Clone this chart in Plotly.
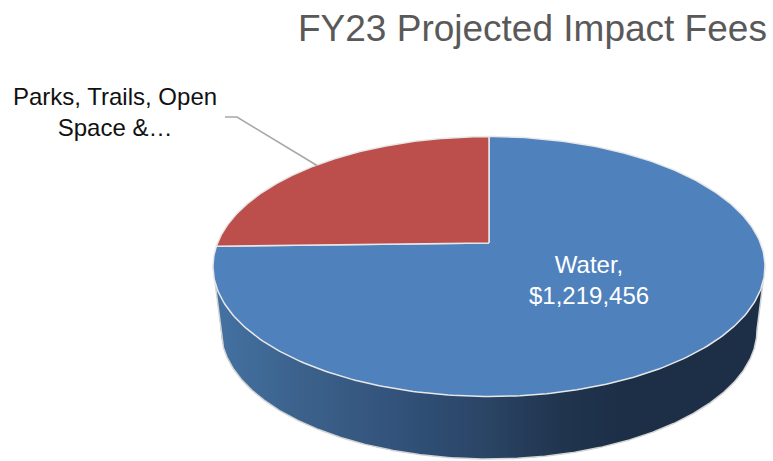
import numpy as np
import plotly.graph_objects as go

categories = ["Water", "Parks, Trails, Open Space &…"]
values = [1219456, 354000]
slice_colors = ["#4f81bd", "#bc4f4c"]
title_text = "FY23 Projected Impact Fees"

W, H = 773, 461
# pie geometry, in window pixels (axes run 1:1 with the page)
CX, TOP_CY, TOP_RX, TOP_RY = 489.0, 266.5, 276.0, 130.0
BOT_CY, BOT_RX, BOT_RY = 330.0, 268.0, 129.0
APEX_Y = 243.0

# side shading: x position -> colour
shade_x = [215, 300, 400, 490, 560, 625, 765]
shade_r = [68, 60, 50, 42, 33, 29, 29]
shade_g = [114, 98, 82, 68, 53, 47, 47]
shade_b = [162, 140, 122, 100, 79, 71, 71]


def top_pt(theta):
    return CX + TOP_RX * np.sin(theta), TOP_CY - TOP_RY * np.cos(theta)


def bot_pt(theta):
    return CX + BOT_RX * np.sin(theta), BOT_CY - BOT_RY * np.cos(theta)


fig = go.Figure()

# outer edge of the wall, left to right
th = np.linspace(np.pi * 1.5, np.pi * 0.5, 400)
xb, yb = bot_pt(th)
xl, yl = top_pt(np.pi * 1.5)
xr, yr = top_pt(np.pi * 0.5)
outer_x = np.concatenate([[xl], xb, [xr]])
outer_y = np.concatenate([[yl], yb, [yr]])

# side wall: upright strips, shaded by x, tucked under the top face
for x0 in range(int(xl), int(xr), 3):
    xs = np.linspace(x0, x0 + 3, 4)
    upper = TOP_CY + TOP_RY * np.sqrt(np.clip(1 - ((xs - CX) / TOP_RX) ** 2, 0, 1)) - 6
    lower = np.interp(xs, outer_x, outer_y)
    col = "rgb(%d,%d,%d)" % (
        np.interp(x0, shade_x, shade_r),
        np.interp(x0, shade_x, shade_g),
        np.interp(x0, shade_x, shade_b),
    )
    fig.add_trace(go.Scatter(
        x=list(xs) + list(xs[::-1]) + [xs[0]],
        y=list(upper) + list(lower[::-1]) + [upper[0]],
        mode="lines", fill="toself", fillcolor=col,
        line=dict(width=0), hoverinfo="skip",
    ))

# outline of the wall
fig.add_trace(go.Scatter(
    x=outer_x, y=outer_y,
    mode="lines", line=dict(color="#d4d4d4", width=1.5), hoverinfo="skip",
))

# top face slices, clockwise from 12 o'clock
fracs = np.array(values, dtype=float) / sum(values)
start = 0.0
for frac, col in zip(fracs, slice_colors):
    end = start + frac * 2 * np.pi
    th = np.linspace(start, end, 300)
    x, y = top_pt(th)
    fig.add_trace(go.Scatter(
        x=[CX] + list(x) + [CX], y=[APEX_Y] + list(y) + [APEX_Y],
        mode="lines", fill="toself", fillcolor=col,
        line=dict(color="#e8e8e8", width=1.5), hoverinfo="skip",
    ))
    start = end

# leader line
fig.add_trace(go.Scatter(
    x=[225, 237, 317], y=[117, 117, 165.5],
    mode="lines", line=dict(color="#a6a6a6", width=1.5), hoverinfo="skip",
))

font = "Liberation Sans, Arial, sans-serif"
fig.update_layout(
    width=W, height=H, autosize=False, showlegend=False,
    margin=dict(l=0, r=0, t=0, b=0),
    paper_bgcolor="white", plot_bgcolor="white",
    xaxis=dict(range=[0, W], visible=False, fixedrange=True),
    yaxis=dict(range=[H, 0], visible=False, fixedrange=True),
    annotations=[
        dict(x=769, y=28, xref="x", yref="y", xanchor="right", showarrow=False,
             text=title_text, font=dict(family=font, size=37, color="#595959")),
        dict(x=115, y=112, xref="x", yref="y", showarrow=False, align="center",
             text="Parks, Trails, Open<br>Space &…",
             font=dict(family=font, size=24, color="#111111")),
        dict(x=589, y=280, xref="x", yref="y", showarrow=False, align="center",
             text="Water,<br>$1,219,456",
             font=dict(family=font, size=24, color="#ffffff")),
    ],
)
fig.write_html(
    "out.html",
    config={"displayModeBar": False},
    post_script="document.body.style.margin='0';document.body.style.overflow='hidden';",
)
